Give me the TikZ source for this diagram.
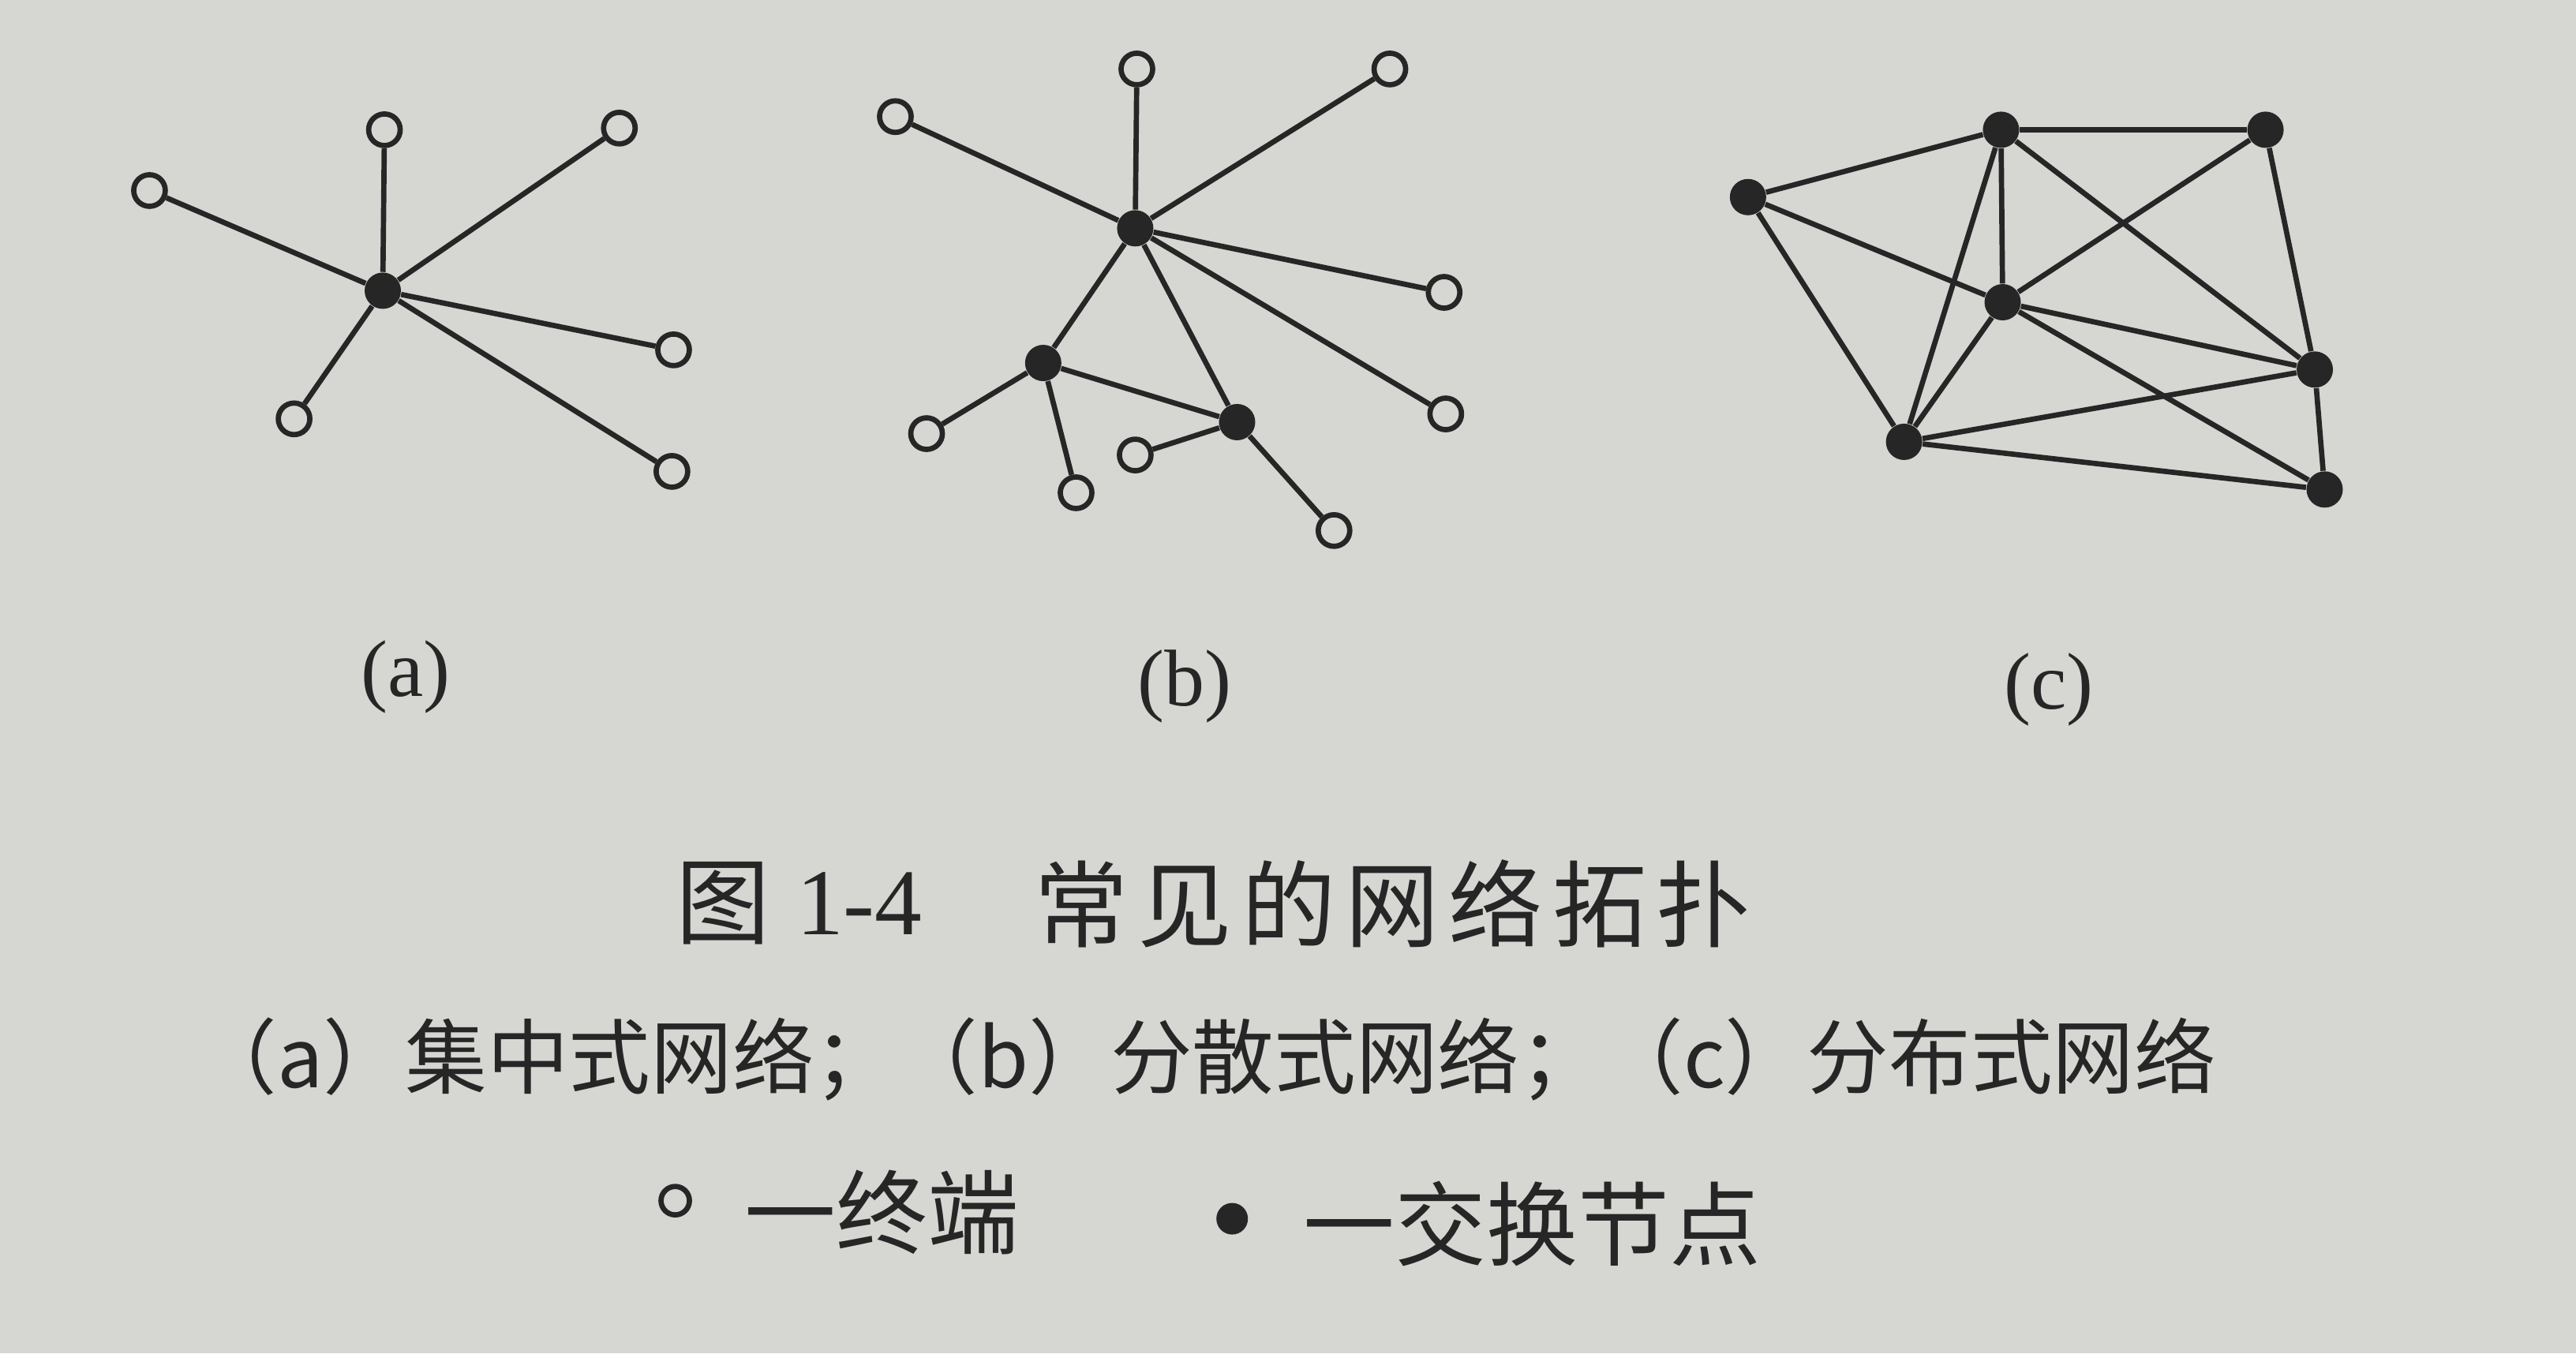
\documentclass[tikz,border=0pt]{standalone}
\usepackage{fontspec}
\setmainfont{Liberation Serif}
\newfontfamily\cjk{Noto Sans CJK SC}
\newcommand{\gp}{\hspace{0.1em}}
\begin{document}
\begin{tikzpicture}[x=0.02082cm,y=-0.02082cm,
  edge/.style={draw=ink,line width=1.9pt},
  term/.style={circle,draw=ink,line width=1.9pt,fill=paper,minimum size=0.40cm,inner sep=0pt},
  hub/.style={circle,fill=ink,minimum size=0.46cm,inner sep=0pt},
  lab/.style={text=ink,font=\fontsize{29}{34}\selectfont},
  titletext/.style={text=ink,font=\cjk\fontsize{34}{40}\selectfont,inner sep=0pt},
  subtext/.style={text=ink,font=\cjk\fontsize{29.5}{35}\selectfont},
  keytext/.style={text=ink,font=\cjk\fontsize{33}{38}\selectfont,inner sep=0pt}]
\definecolor{paper}{RGB}{214,214,211}
\definecolor{ink}{RGB}{38,38,38}
\fill[paper] (0,0) rectangle (1568,824);
\useasboundingbox (0,0) rectangle (1568,824);
% (a)
\node[hub] (ah) at (233,177) {};
\node[term] (a1) at (91,116) {};
\node[term] (a2) at (234,79) {};
\node[term] (a3) at (377,78) {};
\node[term] (a4) at (410,213) {};
\node[term] (a5) at (179,255) {};
\node[term] (a6) at (409,287) {};
\foreach \t in {a1,a2,a3,a4,a5,a6} \draw[edge] (ah) -- (\t);
% (b)
\node[hub] (bh1) at (691,139) {};
\node[hub] (bh2) at (635,221) {};
\node[hub] (bh3) at (753,257) {};
\node[term] (b1) at (545,71) {};
\node[term] (b2) at (692,42) {};
\node[term] (b3) at (846,42) {};
\node[term] (b4) at (879,178) {};
\node[term] (b5) at (880,252) {};
\node[term] (b6) at (564,264) {};
\node[term] (b7) at (655,300) {};
\node[term] (b8) at (691,277) {};
\node[term] (b9) at (812,323) {};
\foreach \t in {b1,b2,b3,b4,b5,bh2,bh3} \draw[edge] (bh1) -- (\t);
\draw[edge] (bh2) -- (bh3);
\draw[edge] (bh2) -- (b6);
\draw[edge] (bh2) -- (b7);
\draw[edge] (bh3) -- (b8);
\draw[edge] (bh3) -- (b9);
% (c)
\node[hub] (cA) at (1064,120) {};
\node[hub] (cB) at (1218,79) {};
\node[hub] (cC) at (1379,79) {};
\node[hub] (cD) at (1219,184) {};
\node[hub] (cE) at (1409,225) {};
\node[hub] (cF) at (1159,269) {};
\node[hub] (cG) at (1415,298) {};
\foreach \u/\v in {cA/cB,cA/cD,cA/cF,cB/cC,cB/cD,cB/cF,cB/cE,cC/cD,cC/cE,cD/cE,cD/cF,cD/cG,cE/cF,cF/cG,cE/cG}
  \draw[edge] (\u) -- (\v);
% labels
\node[lab] (la) at (247,412) {(a)};
\node[lab] (lb) at (721,418) {(b)};
\node[lab] (lc) at (1247,420) {(c)};
\node[titletext] (t1) at (440,550) {图};
\node[text=ink,font=\fontsize{34}{40}\selectfont,inner sep=0pt] (t2) at (523,550) {1-4};
\node[titletext,anchor=west] (t3) at (629,550) {常\gp 见\gp 的\gp 网\gp 络\gp 拓\gp 扑};
\node[subtext] (subt) at (734,645) {（a）集中式网络；（b）分散式网络；（c）分布式网络};
\node[term,minimum size=0.36cm] (kt) at (411,731) {};
\node[keytext,anchor=west] (kt2) at (453,738) {一终端};
\node[hub,minimum size=0.40cm] (kh) at (750,742) {};
\node[keytext,anchor=west] (kh2) at (793,745) {一交换节点};
\end{tikzpicture}
\end{document}
